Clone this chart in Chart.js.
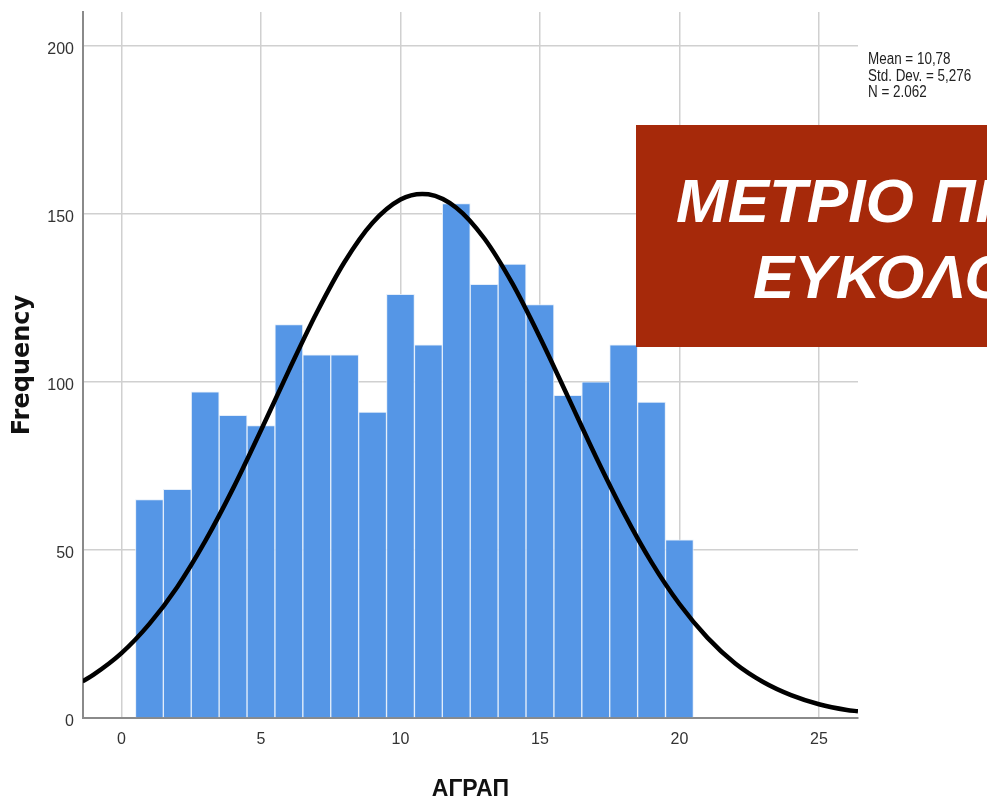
<!DOCTYPE html>
<html>
<head>
<meta charset="utf-8">
<script src="https://cdn.jsdelivr.net/npm/chart.js@4.4.1/dist/chart.umd.min.js"></script>
<style>
  html, body { margin: 0; padding: 0; background: #fff; }
  #wrap { position: relative; width: 987px; height: 803px; overflow: hidden; }
  #stats {
    position: absolute; left: 868px; top: 51px;
    font: 16px "Liberation Sans", Arial, sans-serif;
    line-height: 16.5px; color: #222; white-space: nowrap;
    transform: scaleX(0.84); transform-origin: left top;
  }
  #banner { position: absolute; left: 636px; top: 125px; width: 400px; height: 222px; background: #a6290a; }
  .bt {
    position: absolute; color: #fff; white-space: nowrap;
    font: italic bold 62px "Liberation Sans", Arial, sans-serif; line-height: 62px;
  }
</style>
</head>
<body>
<div id="wrap">
  <canvas id="hist" width="987" height="803"></canvas>
  <div id="stats">Mean = 10,78<br>Std. Dev. = 5,276<br>N = 2.062</div>
  <div id="banner"></div>
  <div class="bt" style="left:676px; top:170px;">ΜΕΤΡΙΟ ΠΡΟΣ</div>
  <div class="bt" style="left:753px; top:246px;">ΕΥΚΟΛΟ</div>
</div>
<script>
// histogram bins (ΑΓΡΑΠ score), width 1
const binCenters = [1, 2, 3, 4, 5, 6, 7, 8, 9, 10, 11, 12, 13, 14, 15, 16, 17, 18, 19, 20];
const frequencies = [65, 68, 97, 90, 87, 117, 108, 108, 91, 126, 111, 153, 129, 135, 123, 96, 100, 111, 94, 53];

// fitted normal curve
const curveX = [-1.4, -1, 0, 1, 2, 3, 4, 5, 6, 7, 8, 9, 10, 10.78, 11, 12, 13, 14, 15, 16, 17, 18, 19, 20, 21, 22, 23, 24, 25, 26, 26.4];
const curveY = [10.9, 12.9, 19.3, 28.0, 39.0, 52.6, 68.3, 85.6, 103.4, 120.6, 135.7, 147.3, 154.2, 155.9, 155.8, 151.8, 142.7, 129.4, 113.2, 95.6, 77.8, 61.1, 46.3, 33.9, 23.9, 16.2, 10.7, 6.8, 4.1, 2.4, 2.0];

const xTicks = [0, 5, 10, 15, 20, 25];
const yTicks = [0, 50, 100, 150, 200];

const sans = '"Liberation Sans", Arial, sans-serif';

new Chart(document.getElementById('hist'), {
  type: 'bar',
  data: {
    datasets: [
      {
        type: 'line',
        data: curveX.map((x, i) => ({ x: x, y: curveY[i] })),
        borderColor: '#000',
        borderWidth: 4.5,
        pointRadius: 0,
        cubicInterpolationMode: 'monotone',
        order: 0
      },
      {
        type: 'bar',
        data: binCenters.map((x, i) => ({ x: x, y: frequencies[i] })),
        backgroundColor: '#5596e6',
        borderColor: 'rgba(225,236,250,0.9)',
        borderWidth: 1,
        barPercentage: 1,
        categoryPercentage: 1,
        order: 1
      }
    ]
  },
  options: {
    responsive: false,
    animation: false,
    layout: { padding: { top: 12, right: 129, left: 0, bottom: 0 } },
    plugins: { legend: { display: false }, tooltip: { enabled: false } },
    scales: {
      x: {
        type: 'linear',
        min: -1.38,
        max: 26.4,
        offset: false,
        afterBuildTicks: (s) => { s.ticks = xTicks.map(v => ({ value: v })); },
        afterFit: (s) => { s.height = 85; },
        grid: { color: '#d0d0d0', lineWidth: 1.5, drawTicks: false, offset: false },
        border: { color: '#8a8a8a', width: 2 },
        ticks: { color: '#333', padding: 14, font: { family: sans, size: 16, lineHeight: 1 } },
        title: {
          display: true, text: 'ΑΓΡΑΠ', color: '#111',
          font: { family: sans, size: 23, weight: 'bold', lineHeight: 1 },
          padding: { top: 0, bottom: 2 }
        }
      },
      y: {
        min: 0,
        max: 210,
        afterBuildTicks: (s) => { s.ticks = yTicks.map(v => ({ value: v })); },
        afterFit: (s) => { s.width = 83; s.paddingTop = 0; s.paddingBottom = 0; },
        grid: { color: '#d0d0d0', lineWidth: 1.5, drawTicks: false },
        border: { color: '#8a8a8a', width: 2 },
        ticks: { color: '#333', padding: 9, labelOffset: 4, font: { family: sans, size: 16, lineHeight: 1 } },
        title: {
          display: true, text: 'Frequency', color: '#111',
          font: { family: '"DejaVu Sans", Verdana, sans-serif', size: 24, weight: 'bold', lineHeight: 1.2 },
          padding: { top: 8, bottom: 0 }
        }
      }
    }
  }
});
</script>
</body>
</html>
